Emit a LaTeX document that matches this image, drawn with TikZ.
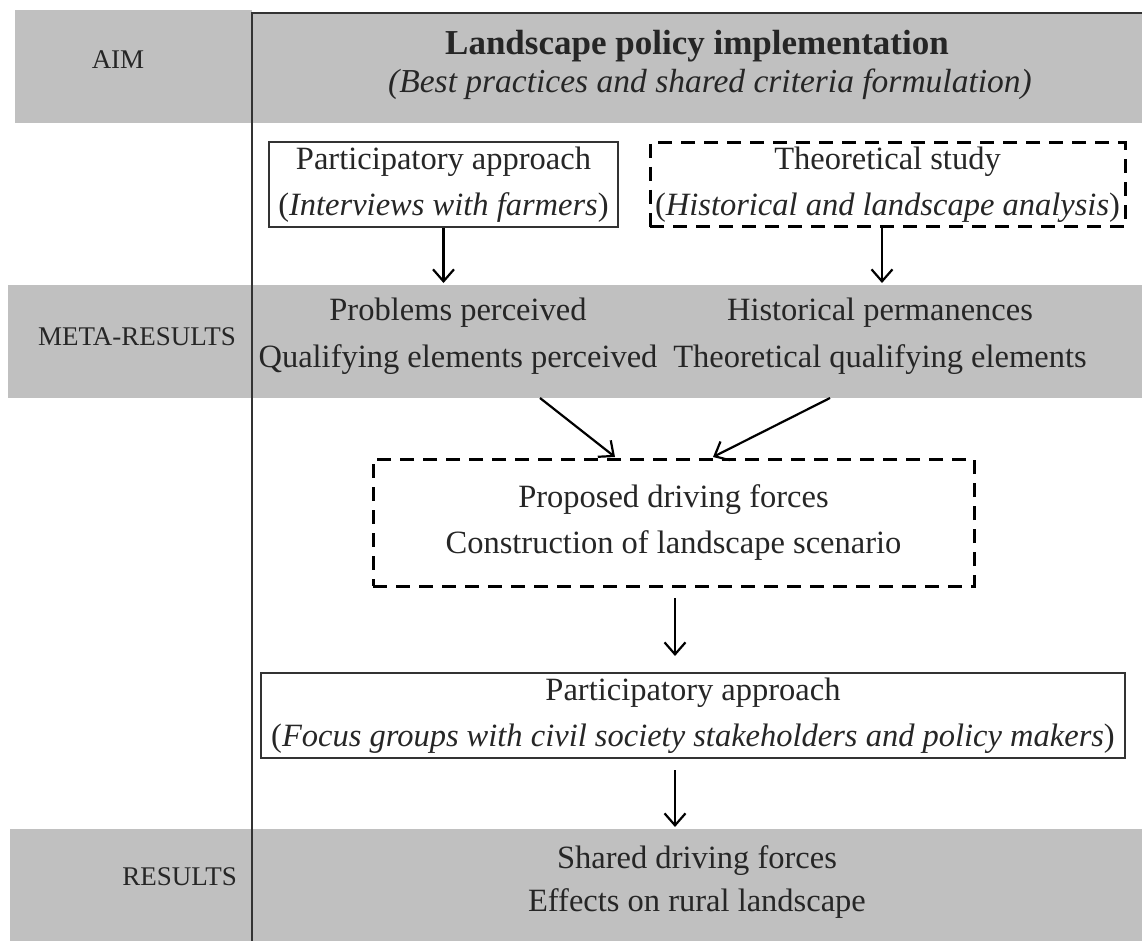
\documentclass[tikz,border=0pt]{standalone}
\usepackage{fontspec}
\setmainfont{Liberation Serif}
\usetikzlibrary{arrows.meta}
\definecolor{bandgray}{RGB}{192,192,192}
\begin{document}
\begin{tikzpicture}[x=1pt,y=-1pt,
  bandfill/.style={fill=bandgray, draw=none},
  lbl/.style={font=\fontsize{27}{32}\selectfont, inner sep=0, text=black!85},
  body/.style={font=\fontsize{32.5}{46}\selectfont, align=center, inner sep=0, text=black!85},
  solidbox/.style={draw=black!80, line width=2pt, fill=white},
  dashbox/.style={draw=black, line width=3pt, dash pattern=on 14pt off 9pt, fill=white},
  arr/.style={line width=2.2pt, -{Straight Barb[length=12pt,width=21pt,line width=2.2pt]}},
  frame/.style={draw=black!80, line width=2pt}
]
\useasboundingbox (0,0) rectangle (1142,941);
\fill[white] (0,0) rectangle (1142,941);
% bands
\fill[bandfill] (15,10) rectangle (252,123);
\fill[bandfill] (252,13) rectangle (1142,123);
\fill[bandfill] (8,285) rectangle (1142,398);
\fill[bandfill] (10,829) rectangle (1142,941);
% frame
\draw[frame] (252,941) -- (252,13) -- (1142,13);
% left labels
\node[lbl] (aim) at (118,60) {AIM};
\node[lbl] (meta) at (137,337) {META-RESULTS};
\node[lbl, anchor=east] (res) at (237,877) {RESULTS};
% aim text
\node[body, font=\fontsize{35}{40}\selectfont\bfseries] (head) at (697,46) {Landscape policy implementation};
\node[body, font=\fontsize{33.5}{40}\selectfont] (headsub) at (710,84) {\textit{(Best practices and shared criteria formulation)}};
% boxes
\node[solidbox, body, minimum width=349pt, minimum height=85pt] (pa) at (443.5,184.5)
  {Participatory approach\\(\textit{Interviews with farmers})};
\node[dashbox, body, minimum width=475pt, minimum height=84pt] (ts) at (887.5,185)
  {Theoretical study\\(\textit{Historical and landscape analysis})};
% meta results
\node[body, font=\fontsize{32.5}{47}\selectfont] (mr1) at (458,336)
  {Problems perceived\\Qualifying elements perceived};
\node[body, font=\fontsize{32.5}{47}\selectfont] (mr2) at (880,336)
  {Historical permanences\\Theoretical qualifying elements};
% proposed
\node[dashbox, body, minimum width=601pt, minimum height=127pt] (pf) at (673.5,522.5)
  {Proposed driving forces\\Construction of landscape scenario};
\node[solidbox, body, minimum width=864pt, minimum height=85pt] (fg) at (693,715.5)
  {Participatory approach\\(\textit{Focus groups with civil society stakeholders and policy makers})};
% results
\node[body, font=\fontsize{32.5}{43}\selectfont] (rs) at (697,882)
  {Shared driving forces\\Effects on rural landscape};
% arrow coordinates
\coordinate (pa-e) at (443.5,283);
\coordinate (ts-e) at (882,283);
\coordinate (d1s) at (540,398);
\coordinate (d1e) at (615,457);
\coordinate (d2s) at (830,398);
\coordinate (d2e) at (713,457);
\coordinate (pf-s) at (675,598);
\coordinate (fg-n) at (675,656);
\coordinate (fg-s) at (675,770);
\coordinate (rs-n) at (675,827);
% arrows
\draw[arr] (pa.south) -- (pa-e);
\draw[arr] (ts.south -| ts-e) -- (ts-e);
\draw[arr] (d1s) -- (d1e);
\draw[arr] (d2s) -- (d2e);
\draw[arr] (pf-s) -- (fg-n);
\draw[arr] (fg-s) -- (rs-n);
\end{tikzpicture}
\end{document}
